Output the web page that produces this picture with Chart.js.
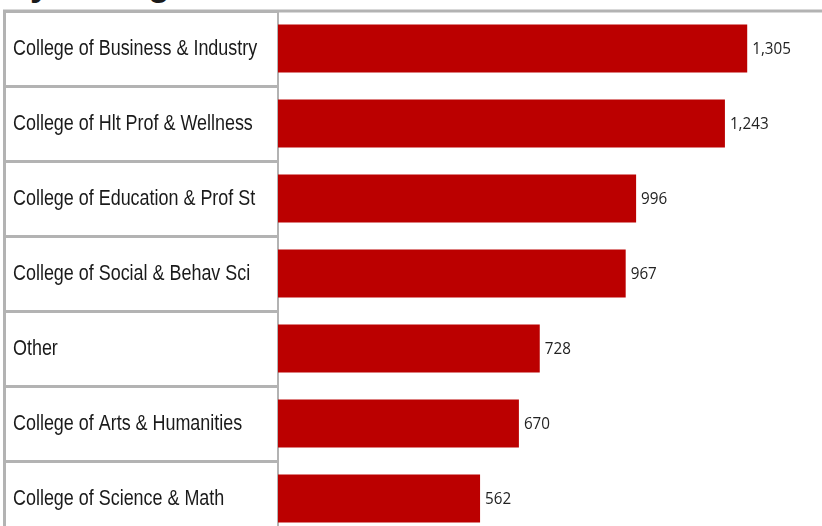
<!DOCTYPE html>
<html>
<head>
<meta charset="utf-8">
<script src="https://cdn.jsdelivr.net/npm/chart.js@4/dist/chart.umd.min.js"></script>
<style>
  html, body { margin: 0; padding: 0; background: #fff; overflow: hidden; }
  #wrap { position: relative; width: 822px; height: 545px; }
  #title {
    position: absolute; left: 4px; top: -38px;
    font: bold 36px "Liberation Sans", Arial, sans-serif; color: #1a1a1a;
    white-space: nowrap;
  }
  canvas { position: absolute; left: 0; top: 0; }
</style>
</head>
<body>
<div id="wrap">
  <div id="title">By College</div>
  <canvas id="chart" width="822" height="545"></canvas>
</div>
<script>
const colleges = [
    'College of Business & Industry',
    'College of Hlt Prof & Wellness',
    'College of Education & Prof St',
    'College of Social & Behav Sci',
    'Other',
    'College of Arts & Humanities',
    'College of Science & Math',
];
const counts = [1305, 1243, 996, 967, 728, 670, 562];

const LINE = '#b3b3b3';
const RED  = '#bb0000';

// table frame, condensed category labels and value labels
const tableFrame = {
    id: 'tableFrame',
    afterDraw(chart) {
        const { ctx, chartArea } = chart;
        const yScale = chart.scales.y;
        ctx.save();
        ctx.strokeStyle = LINE;
        ctx.lineWidth = 3;
        ctx.beginPath();
        ctx.moveTo(3, chartArea.top);
        ctx.lineTo(chart.width, chartArea.top);
        ctx.moveTo(4.5, chartArea.top - 1.5);
        ctx.lineTo(4.5, chartArea.bottom);
        ctx.stroke();

        // Arial Narrow look: squeeze Liberation Sans horizontally
        ctx.fillStyle = '#1a1a1a';
        ctx.font = '22px "Liberation Sans", Arial, sans-serif';
        ctx.textAlign = 'left';
        ctx.textBaseline = 'middle';
        colleges.forEach((name, i) => {
            ctx.save();
            ctx.translate(13, yScale.getPixelForTick(i));
            ctx.scale(0.815, 1);
            ctx.fillText(name, 0, 0);
            ctx.restore();
        });

        ctx.fillStyle = '#222';
        ctx.font = '16px "Open Sans", sans-serif';
        chart.getDatasetMeta(0).data.forEach((bar, i) => {
            ctx.save();
            ctx.translate(bar.x + 5, bar.y + 1);
            ctx.scale(0.95, 1);
            ctx.fillText(counts[i].toLocaleString('en-US'), 0, 0);
            ctx.restore();
        });
        ctx.restore();
    },
};

new Chart(document.getElementById('chart'), {
    type: 'bar',
    data: {
        labels: colleges,
        datasets: [{
            data:               counts,
            backgroundColor:    RED,
            borderWidth:        0,
            barPercentage:      0.64,
            categoryPercentage: 1,
        }],
    },
    options: {
        indexAxis:  'y',
        responsive: false,
        animation:  false,
        layout:     { padding: { left: 13, top: 11, right: 0, bottom: 9 } },
        plugins: {
            legend:  { display: false },
            tooltip: { enabled: false },
        },
        scales: {
            x: { display: false, min: 0, max: 1513 },
            y: {
                position: 'left',
                grid: {
                    offset:          true,
                    drawOnChartArea: false,
                    drawTicks:       true,
                    tickLength:      274,
                    color:           LINE,
                    lineWidth:       3,
                },
                border: { display: true, color: LINE, width: 2 },
                ticks:  { display: false },
                afterFit: s => { s.width = 265; },
            },
        },
    },
    plugins: [tableFrame],
});
</script>
</body>
</html>
